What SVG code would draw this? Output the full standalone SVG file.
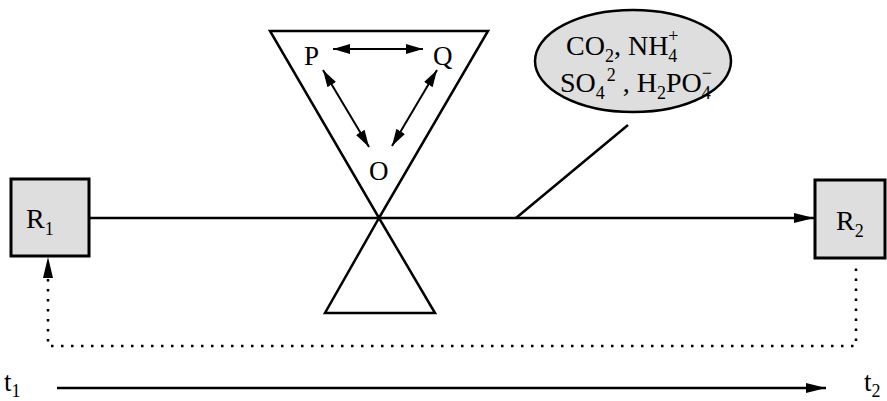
<svg xmlns="http://www.w3.org/2000/svg" width="887" height="401" viewBox="0 0 887 401">
<style>
text{font-family:"Liberation Serif","DejaVu Serif",serif;font-size:27px;fill:#000}
.big{font-size:28px}
.ion{font-size:28px}
.sub{font-size:18px}
.ln{stroke:#000;stroke-width:2.5;fill:none}
.thin{stroke:#000;stroke-width:2;fill:none}
.box{fill:#dedede;stroke:#000;stroke-width:3}
.dot{stroke:#000;stroke-width:2.5;fill:none;stroke-dasharray:2.5 7.5}
</style>
<defs>
<marker id="ah" viewBox="0 0 20 10" refX="20" refY="5" markerWidth="20" markerHeight="10" markerUnits="userSpaceOnUse" orient="auto-start-reverse">
<path d="M0,0 L20,5 L0,10 Z" fill="#000"/>
</marker>
<marker id="ahs" viewBox="0 0 17 10" refX="17" refY="5" markerWidth="17" markerHeight="10" markerUnits="userSpaceOnUse" orient="auto-start-reverse">
<path d="M0,0 L17,5 L0,10 Z" fill="#000"/>
</marker>
</defs>
<g id="connectors">
<line class="ln" x1="89" y1="218" x2="814" y2="218" marker-end="url(#ah)"/>
<line class="ln" x1="516" y1="218" x2="628" y2="125"/>
<path class="dot" d="M48,279 V346 H856 V266"/>
<path d="M48,257 L53,278 L43,278 Z" fill="#000"/>
<line class="ln" x1="57" y1="388" x2="826" y2="388" marker-end="url(#ah)"/>
<line class="thin" x1="333" y1="49" x2="423" y2="49" marker-start="url(#ahs)" marker-end="url(#ahs)"/>
<line class="thin" x1="323" y1="70" x2="369" y2="147" marker-start="url(#ahs)" marker-end="url(#ahs)"/>
<line class="thin" x1="437" y1="70" x2="392" y2="146" marker-start="url(#ahs)" marker-end="url(#ahs)"/>
</g>
<g id="triangle-top">
<path class="ln" d="M270,31 L488,31 L379,218 Z"/>
</g>
<g id="triangle-bottom">
<path class="ln" d="M379,218 L435,313 L325,313 Z"/>
</g>
<g id="P"><text x="304" y="65">P</text></g>
<g id="Q"><text x="433" y="65">Q</text></g>
<g id="O"><text x="369" y="180">O</text></g>
<g id="R1">
<rect class="box" x="11" y="179" width="78" height="77"/>
<text class="big" x="26" y="228">R<tspan class="sub" dy="7">1</tspan></text>
</g>
<g id="R2">
<rect class="box" x="815" y="180" width="70" height="78"/>
<text class="big" x="836" y="230">R<tspan class="sub" dy="7">2</tspan></text>
</g>
<g id="ions">
<ellipse cx="633" cy="61" rx="98" ry="51" fill="#dedede" stroke="#000" stroke-width="2.5"/>
<text class="ion" x="566" y="55">CO<tspan class="sub" dy="7">2</tspan><tspan dy="-7">, NH</tspan><tspan class="sub" dy="7">4</tspan><tspan class="sub" dx="-9" dy="-20">+</tspan></text>
<text class="ion" x="560" y="92">SO<tspan class="sub" dy="7">4</tspan><tspan class="sub" dx="2" dy="-18">2</tspan><tspan dy="11"> , H</tspan><tspan class="sub" dy="7">2</tspan><tspan dy="-7">PO</tspan><tspan class="sub" dy="7">4</tspan><tspan class="sub" dx="-9" dy="-20">−</tspan></text>
</g>
<g id="t1"><text x="4" y="391">t<tspan class="sub" dy="6">1</tspan></text></g>
<g id="t2"><text x="864" y="391">t<tspan class="sub" dy="6">2</tspan></text></g>
</svg>
